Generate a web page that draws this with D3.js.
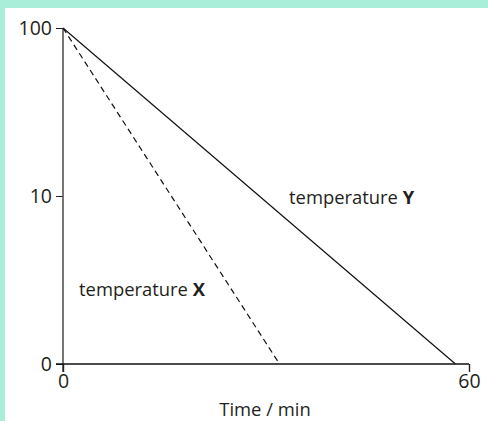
<!DOCTYPE html>
<html><head><meta charset="utf-8">
<script src="https://cdn.jsdelivr.net/npm/d3@7"></script>
<style>
html,body{margin:0;padding:0;background:#fff;}
svg{display:block;}
text{font-family:"Open Sans","Noto Sans",sans-serif;fill:#231f20;}
</style></head><body>
<svg id="c" width="488" height="421"></svg>
<script>
// Data
const seriesNames = ["temperature X", "temperature Y"];
const timeX = [0, 32];
const tempX = [100, 1];
const timeY = [0, 58];
const tempY = [100, 1];
const yTickValues = [1, 10, 100];
const yTickLabels = ["0", "10", "100"];
const xTickValues = [0, 60];
const xTickLabels = ["0", "60"];
const xTitle = "Time / min";

const svg = d3.select("#c");
// mint frame
svg.append("rect").attr("x",0).attr("y",0).attr("width",488).attr("height",421).attr("fill","#a8eed8");
svg.append("rect").attr("x",5).attr("y",8).attr("width",483).attr("height",413).attr("fill","#fff");

const x = d3.scaleLinear().domain([0,60]).range([63,469]);
const y = d3.scaleLog().domain([1,100]).range([364,28]);

// y axis
const yAxis = svg.append("g").attr("transform","translate(63,0)")
  .call(d3.axisLeft(y).tickValues(yTickValues).tickFormat((d,i)=>yTickLabels[i]).tickSizeOuter(0).tickSize(7).tickPadding(4));
yAxis.select(".domain").remove();
yAxis.attr("font-family",null).attr("font-size",null);
yAxis.selectAll(".tick line").attr("stroke","#231f20");
yAxis.selectAll(".tick text").attr("fill","#231f20").style("font-size","19.5px");
svg.append("line").attr("x1",63).attr("x2",63).attr("y1",y(100)).attr("y2",372).attr("stroke","#555").attr("stroke-width",1.6);

// x axis
const xAxis = svg.append("g").attr("transform","translate(0,364)")
  .call(d3.axisBottom(x).tickValues(xTickValues).tickFormat((d,i)=>xTickLabels[i]).tickSizeOuter(0).tickSize(8).tickPadding(2));
xAxis.select(".domain").remove();
xAxis.attr("font-family",null).attr("font-size",null);
xAxis.selectAll(".tick line").attr("stroke","#231f20").attr("stroke-width",1.4);
xAxis.selectAll(".tick text").attr("fill","#231f20").style("font-size","19.5px");
svg.append("line").attr("x1",56).attr("x2",x(60)).attr("y1",364).attr("y2",364).attr("stroke","#111").attr("stroke-width",1.6);

svg.append("text").attr("x",265).attr("y",416).attr("text-anchor","middle").style("font-size","18.4px").text(xTitle);

const line = d3.line().x(d=>x(d[0])).y(d=>y(d[1]));
svg.append("path").datum(timeY.map((t,i)=>[t,tempY[i]])).attr("d",line).attr("fill","none").attr("stroke","#111").attr("stroke-width",1.2);
svg.append("path").datum(timeX.map((t,i)=>[t,tempX[i]])).attr("d",line).attr("fill","none").attr("stroke","#111").attr("stroke-width",1.2).attr("stroke-dasharray","6,4");

function label(px,py,name){
  const parts = name.split(" ");
  const t = svg.append("text").attr("x",px).attr("y",py).style("font-size","18.4px");
  t.append("tspan").text(parts[0]+" ");
  t.append("tspan").attr("font-weight","bold").text(parts[1]);
}
label(289,204,seriesNames[1]);
label(79,296,seriesNames[0]);
</script></body></html>
